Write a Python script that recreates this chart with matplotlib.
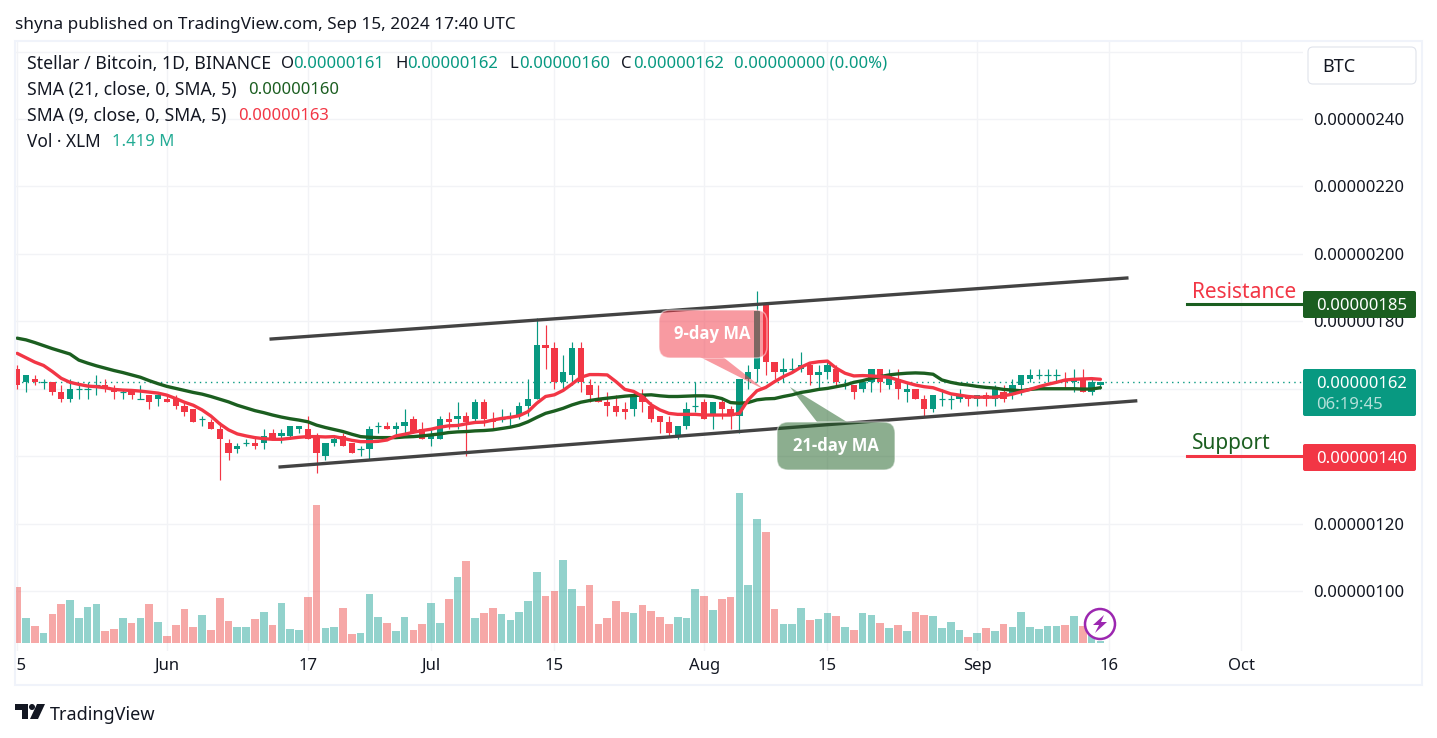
import numpy as np
import matplotlib
matplotlib.use("Agg")
import matplotlib.pyplot as plt
from matplotlib.patches import FancyBboxPatch, Polygon, Circle, Rectangle
from matplotlib.transforms import Affine2D, Bbox

W, H = 1437, 738
GREEN = "#089981"
RED = "#f23645"
DARK = "#1b5e20"
INK = "#131722"
GRID = "#f2f3f6"

# day number, 0 is Jun 1, candles run May 15 .. Sep 15
days = list(range(-17, 107))

# prices in satoshi (1e-8 BTC)
opens = [166, 162, 163, 162, 162, 159, 157, 160, 160, 161, 161, 160, 159, 160, 157, 158, 157, 157, 157, 155,
         154, 151, 150, 148, 144, 142, 144, 144, 144, 147, 146, 146, 148, 148, 146, 140, 144, 146, 144, 142, 142,
         149, 149, 148, 149, 151, 148, 145, 145, 151, 151, 152, 151, 156, 151, 151, 152, 152, 155, 157,
         173, 172, 162, 164, 172, 161, 157, 156, 155, 154, 154, 158, 155, 152, 150, 146, 149, 155, 156, 152,
         156, 154, 152, 163, 166, 185, 168, 165, 166, 166, 167, 164, 165, 166, 161, 161,
         160, 162, 166, 161, 163, 159, 160, 157, 154, 157, 157, 157, 158, 157, 158, 157, 159, 158, 161, 163,
         164, 164, 164, 163, 162, 163, 159, 161]
highs = [167, 164, 164, 163, 162, 161, 163, 161, 162, 164, 163, 161, 160, 160, 161, 158, 158, 158, 158, 156,
         154, 152, 151, 150, 145, 144, 145, 146, 148, 148, 148, 149, 149, 152, 147, 144, 146, 147, 144, 143, 149,
         150, 150, 150, 154, 152, 150, 148, 152, 153, 156, 153, 157, 157, 153, 154, 153, 156, 163, 181,
         179, 174, 170, 174, 174, 163, 161, 159, 158, 156, 159, 160, 156, 152, 152, 149, 156, 162, 157, 156,
         157, 155, 163, 167, 189, 185, 168, 169, 169, 171, 168, 167, 168, 167, 163, 161,
         163, 166, 166, 166, 166, 162, 160, 158, 158, 160, 158, 160, 158, 158, 159, 161, 161, 163, 164, 166,
         166, 166, 166, 165, 166, 166, 163, 162]
lows = [160, 159, 161, 160, 158, 156, 156, 157, 157, 158, 159, 157, 157, 157, 157, 154, 155, 156, 154, 152,
        150, 149, 148, 133, 139, 141, 143, 142, 142, 145, 144, 145, 147, 145, 135, 139, 143, 143, 141, 140, 139,
        147, 148, 146, 147, 147, 145, 143, 145, 148, 148, 140, 150, 149, 148, 150, 149, 151, 152, 157,
        166, 160, 160, 161, 159, 156, 156, 152, 152, 151, 152, 153, 150, 147, 146, 145, 148, 153, 151, 148,
        151, 148, 147, 160, 162, 164, 163, 162, 165, 165, 161, 160, 163, 161, 160, 157,
        159, 159, 159, 160, 157, 156, 157, 152, 153, 155, 154, 156, 155, 155, 155, 155, 156, 157, 158, 162,
        163, 162, 162, 160, 159, 159, 158, 160]
closes = [161, 164, 162, 162, 159, 157, 160, 160, 160, 161, 160, 159, 159, 158, 157, 156, 158, 156, 155, 153,
          150, 151, 148, 145, 141, 143, 144, 143, 146, 145, 147, 149, 149, 145, 141, 144, 145, 143, 141, 142, 148,
          149, 148, 149, 150, 147, 145, 146, 151, 150, 152, 150, 156, 151, 150, 151, 152, 155, 157, 173,
          172, 162, 165, 172, 162, 158, 156, 155, 153, 153, 158, 156, 151, 150, 147, 149, 154, 155, 151, 156,
          154, 152, 163, 165, 183, 168, 165, 166, 166, 167, 164, 165, 167, 162, 161, 159,
          162, 166, 162, 164, 160, 160, 157, 154, 158, 157, 157, 158, 157, 158, 157, 160, 157, 161, 164, 164,
          164, 164, 164, 162, 163, 159, 162, 162]

# SMA 21 and SMA 9 read per day, same satoshi scale
sma21 = [175.0, 174.5, 173.7, 172.8, 171.9, 171.1, 170.3, 168.5, 167.6, 166.8, 166.1, 165.4, 164.8, 164.1, 163.4,
         162.4, 161.5, 160.7, 160.1, 159.5, 158.9, 158.4, 157.7, 156.9, 156.1, 155.1, 154.3, 153.5, 152.9, 152.2,
         151.6, 151.1, 150.7, 150.2, 149.2, 148.5, 147.9, 147.3, 146.5, 145.8, 145.6,
         145.5, 145.5, 145.5, 145.7, 145.8, 146.0, 146.3, 146.6, 147.0, 147.2, 147.3, 147.5, 147.6, 147.8, 148.2,
         148.6, 149.2, 150.2, 151.5, 152.7, 153.4, 154.2, 155.2, 156.0, 156.5, 156.9, 157.2, 157.5, 157.8, 158.0,
         158.1, 158.2, 157.9, 157.7, 157.7, 157.8, 157.9, 157.9, 157.7, 157.1,
         155.9, 155.7, 155.9, 156.7, 157.0, 157.1, 157.7, 158.2, 158.9, 159.3, 159.8, 160.1, 160.6, 161.1, 161.9,
         162.4, 163.1, 163.6, 164.1, 164.4, 164.6, 164.7, 164.6, 164.3, 162.6, 161.9, 161.4, 161.1, 160.7, 160.4,
         160.2, 159.8, 159.6, 159.4, 159.8, 160.0, 160.0, 160.0, 160.0, 160.0, 159.9, 159.9, 160.3]
sma9 = [170.5, 169.2, 167.9, 166.9, 165.1, 163.1, 161.9, 161.3, 160.8, 160.6, 160.3, 159.8, 159.6, 159.5, 159.3,
        159.0, 158.7, 158.1, 157.1, 156.0, 155.1, 153.7, 151.9, 149.6, 147.8, 146.6, 146.0, 145.5, 145.2, 145.0,
        145.0, 145.3, 145.6, 145.8, 145.8, 145.7, 145.8, 145.3, 144.7, 144.3, 144.3,
        144.4, 144.8, 146.0, 146.5, 147.1, 147.6, 148.0, 148.6, 149.0, 149.1, 149.6, 150.0, 150.1, 150.7, 151.2,
        151.5, 152.0, 153.2, 155.7, 157.7, 158.2, 159.5, 161.4, 163.4, 164.2, 164.2, 164.1, 162.1, 159.8, 159.2,
        157.7, 155.2, 153.7, 152.7, 152.4, 152.4, 152.4, 152.2, 152.2, 152.2,
        152.2, 152.7, 156.7, 159.4, 160.4, 162.1, 163.6, 164.8, 166.4, 167.6, 168.0, 168.2, 166.1, 164.6, 163.8,
        163.9, 163.8, 163.6, 163.4, 162.6, 161.8, 161.1, 160.6, 160.3, 159.4, 158.5, 158.1, 157.7, 157.5, 157.5,
        157.5, 157.9, 158.4, 159.1, 159.8, 160.6, 161.3, 161.9, 162.6, 162.8, 162.9, 163.0, 162.8]

# volume, millions XLM
volume = [33.6, 15.0, 10.2, 6.0, 17.4, 23.4, 25.8, 15.0, 21.6, 23.4, 7.2, 8.4, 15.0, 12.0, 15.0, 23.4, 12.6, 4.2,
          10.8, 20.4, 9.6, 16.8, 7.8, 27.0, 13.2, 9.6, 9.6, 14.4, 18.6, 10.8, 24.0, 8.4, 7.8, 27.6, 82.8, 9.0, 9.6,
          21.0, 5.4, 6.0, 29.4, 15.6, 12.0, 7.2, 15.6, 7.8, 11.4, 24.0, 12.0, 26.4, 39.6, 49.2, 15.0, 18.0, 21.0,
          17.4, 13.8, 18.6, 25.2, 42.6, 28.2, 31.2, 49.8, 32.4, 22.2, 34.8, 11.4, 15.0, 25.2, 18.6, 18.0, 22.8,
          19.2, 15.6, 11.4, 15.6, 15.0, 32.4, 28.2, 19.8, 26.4, 27.6, 90.0, 34.8, 74.4, 66.6, 20.4, 11.4, 11.4,
          21.0, 13.8, 14.4, 18.0, 16.2, 9.6, 7.8, 18.0, 16.8, 12.0, 9.0, 10.8, 7.2, 18.6, 16.8, 16.2, 9.0, 12.6,
          7.8, 3.6, 6.0, 9.0, 7.2, 11.4, 9.6, 18.6, 9.6, 8.4, 10.2, 10.2, 10.8, 16.2, 10.2, 5.8, 1.4]

price_ticks = [100, 120, 140, 160, 180, 200, 220, 240, 260]
hidden_ticks = [140, 160, 260]  # sit under a badge or the BTC button
date_ticks = [-17, 0, 16, 30, 44, 61, 75, 92, 107, 122]
date_labels = ["15", "Jun", "17", "Jul", "15", "Aug", "15", "Sep", "16", "Oct"]

# hand drawn channel
upper_x, upper_y = [11.84, 109.0], [174.75, 192.85]
lower_x, lower_y = [12.86, 110.0], [136.8, 156.4]
resistance = 185
support = 140
last_price = 162

plt.rcParams["font.family"] = ["Noto Sans", "DejaVu Sans"]
fig = plt.figure(figsize=(W / 100, H / 100), dpi=100, facecolor="white")
px = Affine2D().scale(1 / W, -1 / H).translate(0, 1) + fig.transFigure


def label(x, y, s, color=INK, size=12, ha="left", **kw):
    fig.text(x, y, s, color=color, fontsize=size, ha=ha, va="center", transform=px, zorder=9, **kw)


def box(x0, y0, x1, y1, face, edge="none", lw=0, r=2, alpha=None, z=6):
    p = FancyBboxPatch((x0 + r, y0 + r), x1 - x0 - 2 * r, y1 - y0 - 2 * r, boxstyle="round,pad=%f,rounding_size=%f" % (r, r),
                       transform=px, facecolor=face, edgecolor=edge, linewidth=lw, alpha=alpha, zorder=z)
    fig.add_artist(p)


ax = fig.add_axes([16 / W, 1 - 651 / H, (1303 - 16) / W, (651 - 42) / H])
ax.set_xlim(-17.13, 129.0)
ax.set_ylim(100 + (591 - 651) / 3.371, 100 + (591 - 42) / 3.371)
for s in ax.spines.values():
    s.set_visible(False)
ax.grid(True, color=GRID, lw=1)
ax.set_axisbelow(True)

d = np.array(days)
ov = np.array(opens)
cl = np.array(closes)
colors = np.where(cl >= ov, GREEN, RED)
vol_colors = np.where(cl >= ov, "#26a69a", "#ef5350")

ax.vlines(d, lows, highs, colors=colors, lw=0.85, zorder=3)
flat = ov == cl
ax.bar(d[~flat], np.abs(cl - ov)[~flat], bottom=np.minimum(ov, cl)[~flat], width=0.72, color=colors[~flat], lw=0, zorder=3)
ax.hlines(cl[flat], d[flat] - 0.36, d[flat] + 0.36, colors=colors[flat], lw=0.85, zorder=3)

ax.axhline(last_price, color=GREEN, lw=1, ls=(0, (1, 3)), zorder=2.5)
ax.plot(d, sma21, color=DARK, lw=2.4, zorder=4, solid_capstyle="round")
ax.plot(d, sma9, color=RED, lw=2.4, zorder=4.5, solid_capstyle="round")
ax.plot(upper_x, upper_y, color="#434343", lw=2.4, zorder=5)
ax.plot(lower_x, lower_y, color="#434343", lw=2.4, zorder=5)
ax.plot([115.8, 129], [resistance, resistance], color=DARK, lw=2.2, zorder=5)
ax.plot([115.8, 129], [support, support], color=RED, lw=2.2, zorder=5)

vax = ax.twinx()
vax.set_ylim(-4.8, 360.6)
vax.set_yticks([])
for s in vax.spines.values():
    s.set_visible(False)
vax.bar(d, volume, width=0.87, color=vol_colors, alpha=0.5, lw=0)

# twinx moves the price labels to the left, so set them after it
ax.set_yticks(price_ticks)
ax.set_yticklabels(["" if v in hidden_ticks else "%.8f" % (v / 1e8) for v in price_ticks], fontsize=12, color=INK)
ax.yaxis.tick_right()
ax.tick_params(axis="y", length=0, pad=7)
ax.set_xticks(date_ticks)
ax.set_xticklabels(date_labels, fontsize=12, color=INK)
ax.tick_params(axis="x", length=0, pad=5)
clip = Bbox([[16, 0], [1303, H]])
for t in ax.get_xticklabels():
    t.set_clip_on(True)
    t.set_clip_box(clip)

# outer frame and badges
fig.add_artist(Rectangle((15, 41), 1407, 644, transform=px, fill=False, edgecolor="#f0f3fa", lw=1.5, zorder=1))
box(1303, 291, 1416, 318, DARK)
box(1303, 369, 1416, 416, GREEN)
box(1303, 444, 1416, 471, RED)
label(1316, 306, "0.00000185", "white")
label(1316, 384, "0.00000162", "white")
label(1316, 405, "06:19:45", "#b5e0da")
label(1316, 459, "0.00000140", "white")
box(1308, 47, 1416, 84, "white", "#e0e3eb", 0.8, r=5)
label(1322, 67, "BTC", size=13)
label(1192, 293, "Resistance", RED, 15)
label(1192, 444, "Support", DARK, 15)

# callouts
PINK = "#f23645"
fig.add_artist(Polygon([(700, 357), (723, 357), (765, 390)], closed=True, transform=px, facecolor=PINK, alpha=0.5, lw=0, zorder=6))
box(659, 310, 767, 358, PINK, "white", 1, r=11, alpha=0.5)
label(712, 334, "9-day MA", "white", 12, ha="center", fontweight="bold", family="Open Sans")
fig.add_artist(Polygon([(817, 422), (847, 422), (790, 387)], closed=True, transform=px, facecolor=DARK, alpha=0.5, lw=0, zorder=6))
box(777, 422, 895, 470, DARK, "white", 1, r=11, alpha=0.5)
label(836, 446, "21-day MA", "white", 12, ha="center", fontweight="bold", family="Open Sans")

# flash icon
fig.add_artist(Circle((1100, 624), 15, transform=px, facecolor="white", edgecolor="#9c27b0", lw=1.8, zorder=7))
fig.add_artist(Polygon([(1104, 615), (1093, 625), (1099, 625), (1095, 633), (1107, 622), (1101, 622)], closed=True, transform=px,
                       facecolor="#9c27b0", lw=0, zorder=8))

# header and legend rows
label(15, 25, "shyna published on TradingView.com, Sep 15, 2024 17:40 UTC", size=12.35)
label(27, 64, "Stellar / Bitcoin, 1D, BINANCE", size=12.7)
label(281, 64, "O")
label(293, 64, "0.00000161", GREEN)
label(395, 64, "H")
label(407, 64, "0.00000162", GREEN)
label(509, 64, "L")
label(519, 64, "0.00000160", GREEN)
label(621, 64, "C")
label(633, 64, "0.00000162", GREEN)
label(734, 64, "0.00000000 (0.00%)", GREEN)
label(27, 90, "SMA (21, close, 0, SMA, 5)", size=12.7)
label(248, 90, "0.00000160", DARK)
label(27, 116, "SMA (9, close, 0, SMA, 5)", size=12.7)
label(238, 116, "0.00000163", RED)
label(27, 142, "Vol · XLM", size=12.4)
label(112, 142, "1.419 M", "#22ab94")

# logo
logo = "#131722"
fig.add_artist(Polygon([(15, 704), (28, 704), (28, 719), (22, 719), (22, 710), (15, 710)], closed=True, transform=px, facecolor=logo, lw=0, zorder=8))
fig.add_artist(Circle((32, 707), 3, transform=px, facecolor=logo, lw=0, zorder=8))
fig.add_artist(Polygon([(37, 704), (45, 704), (38, 719), (30, 719)], closed=True, transform=px, facecolor=logo, lw=0, zorder=8))
label(50, 715, "TradingView", size=13)

fig.savefig("out.png", dpi=100)
